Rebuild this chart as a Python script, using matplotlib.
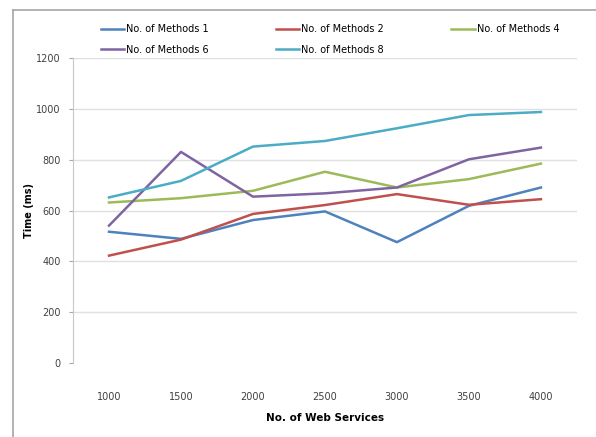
import matplotlib
matplotlib.use('Agg')
import matplotlib.pyplot as plt
from matplotlib.lines import Line2D


# 웹 서비스 수에 따른 응답 시간 (ms)
web_services = ['1000', '1500', '2000', '2500', '3000', '3500', '4000']
methods_1 = [517, 489, 563, 597, 476, 619, 691]
methods_2 = [423, 486, 587, 622, 665, 623, 645]
methods_4 = [632, 649, 678, 753, 691, 724, 785]
methods_6 = [541, 831, 655, 668, 691, 802, 848]
methods_8 = [652, 717, 852, 874, 924, 976, 988]
y_ticks = [0, 200, 400, 600, 800, 1000, 1200]

series = [
    ('No. of Methods 1', methods_1, '#4F81BD'),
    ('No. of Methods 2', methods_2, '#C0504D'),
    ('No. of Methods 4', methods_4, '#9BBB59'),
    ('No. of Methods 6', methods_6, '#8064A2'),
    ('No. of Methods 8', methods_8, '#4BACC6'),
]

fig = plt.figure(figsize=(5.96, 4.37), dpi=100)
ax = fig.add_axes([0.1225, 0.169, 0.8455, 0.698])

# 바깥 테두리
fig.add_artist(Line2D([0.022, 0.022], [0.0, 0.977], color='#a6a6a6', lw=1.2))
fig.add_artist(Line2D([0.022, 1.0], [0.977, 0.977], color='#a6a6a6', lw=1.2))

x = range(len(web_services))
for label, values, color in series:
    ax.plot(x, values, color=color, lw=1.8, label=label)

ax.set_xlim(-0.5, len(web_services) - 0.5)
ax.set_ylim(0, 1200)
ax.set_yticks(y_ticks)
ax.set_yticklabels([str(v) for v in y_ticks], fontsize=7, color='#404040')
ax.set_xticks(list(x))
ax.set_xticklabels(web_services, fontsize=7, color='#404040')
ax.tick_params(axis='x', length=0, pad=21)
ax.tick_params(axis='y', length=3, color='#a6a6a6', pad=6)

for v in y_ticks[1:]:
    ax.axhline(v, color='#e0e0e0', lw=1.0, zorder=0)

for side in ['top', 'right', 'bottom']:
    ax.spines[side].set_visible(False)
ax.spines['left'].set_color('#c8c8c8')

ax.set_ylabel('Time (ms)', fontsize=7, fontweight='bold', labelpad=1)
ax.set_xlabel('No. of Web Services', fontsize=7.5, fontweight='bold', labelpad=8)

# 범례 순서: 1, 2, 4 / 6, 8 (행 우선)
handles, labels = ax.get_legend_handles_labels()
order = [0, 3, 1, 4, 2]
fig.legend([handles[i] for i in order], [labels[i] for i in order],
           loc='upper left', bbox_to_anchor=(0.155, 0.965), ncol=3,
           frameon=False, fontsize=7, handlelength=2.4, handletextpad=0.2,
           columnspacing=6.9, labelspacing=1.1)

fig.savefig('out.png', dpi=100, facecolor='white')
